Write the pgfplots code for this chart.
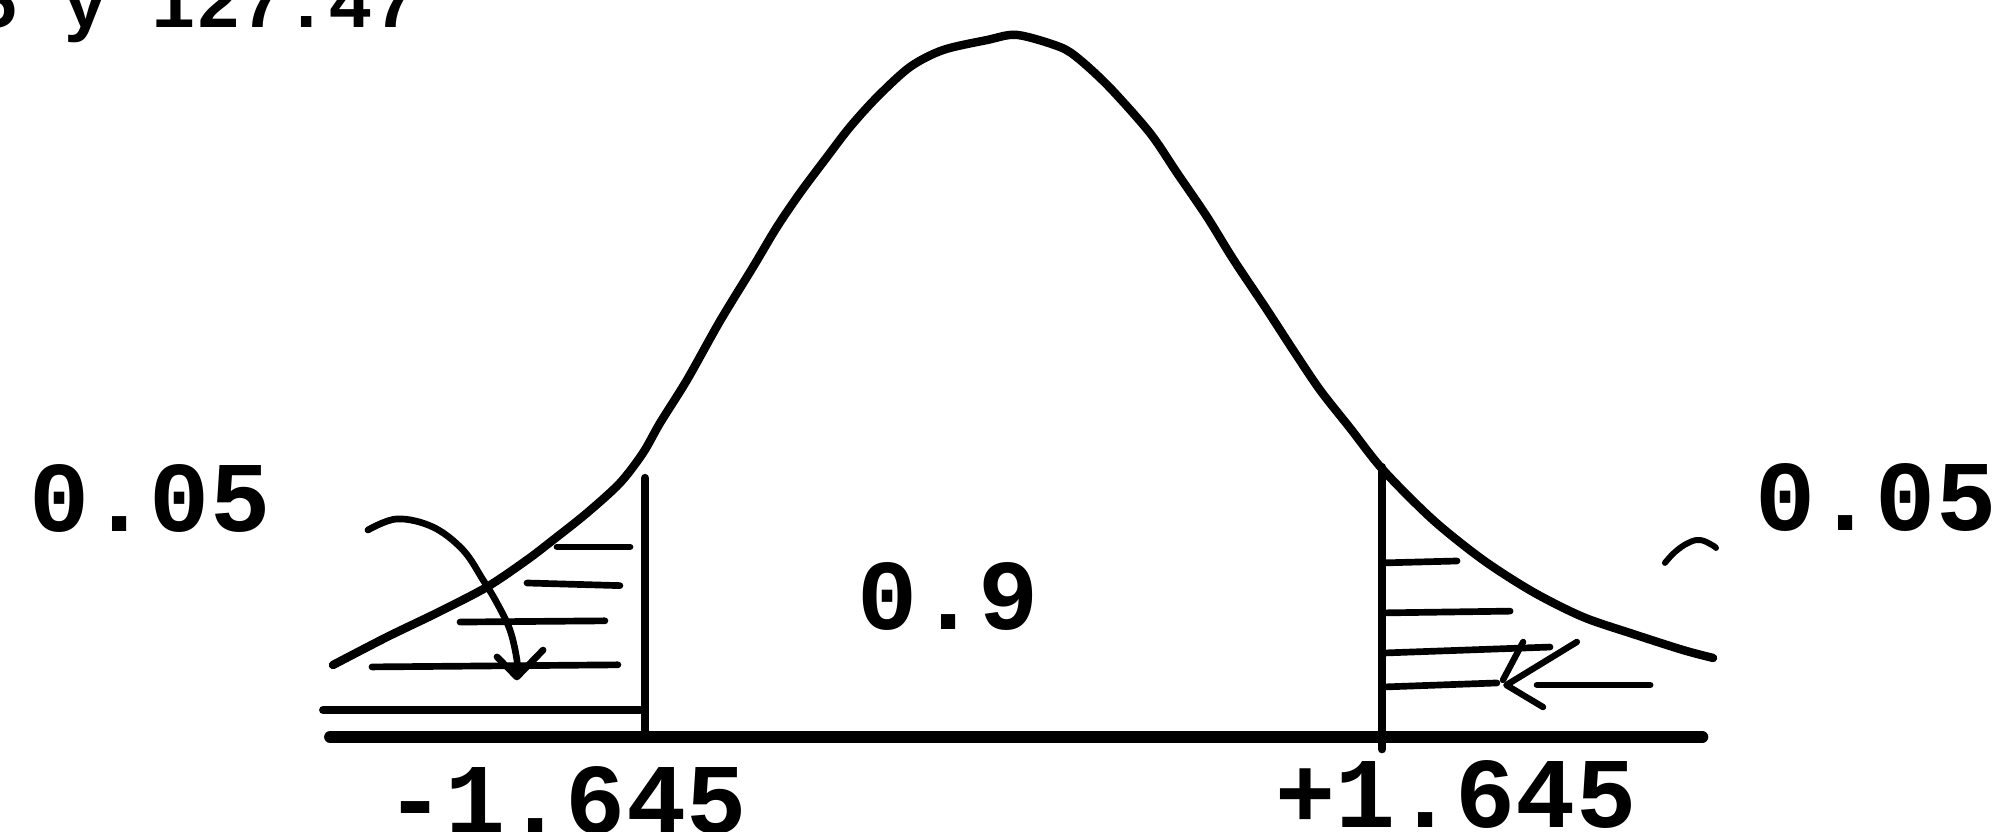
\documentclass[border=0pt]{standalone}
\usepackage{fontspec}
\usepackage{pgfplots}
\pgfplotsset{compat=1.18}
\newfontfamily\tw{Liberation Mono}
\newcommand\lbl{\fontsize{28.5}{32}\selectfont\tw\bfseries}
\newcommand\hdr{\fontsize{21}{25}\selectfont\tw\bfseries}

\begin{document}
\begin{tikzpicture}
\begin{axis}[
  scale only axis, width=199.4mm, height=83.2mm,
  at={(0,0)}, anchor=south west,
  xmin=-4.5246, xmax=4.3772, ymin=-0.05398, ymax=0.41875,
  hide axis, clip=false,
  every axis plot/.append style={black, line cap=round, line join=round},
]
\coordinate (ll) at (rel axis cs:0,0);
\coordinate (ur) at (rel axis cs:1,1);

% bell curve
\addplot[line width=2.4pt, smooth, tension=0.5] coordinates {
 (-3.038,0.0409) (-2.797,0.0568) (-2.574,0.0705) (-2.351,0.0852)
 (-2.172,0.1006) (-2.056,0.1119) (-1.904,0.1273) (-1.757,0.1443)
 (-1.654,0.1614) (-1.578,0.1784) (-1.458,0.2028) (-1.310,0.2364)
 (-1.163,0.2670) (-1.056,0.2898) (-0.953,0.3091) (-0.833,0.3295)
 (-0.730,0.3466) (-0.609,0.3636) (-0.462,0.3807) (-0.315,0.3903)
 (-0.118,0.3960) (0.016,0.3989) (0.208,0.3920) (0.297,0.3847)
 (0.431,0.3688) (0.609,0.3432) (0.730,0.3205) (0.864,0.2955)
 (0.980,0.2716) (1.132,0.2426) (1.248,0.2199) (1.368,0.1972)
 (1.502,0.1756) (1.650,0.1517) (1.873,0.1233) (2.096,0.1006)
 (2.319,0.0824) (2.542,0.0682) (2.766,0.0585) (2.989,0.0494)
 (3.123,0.0449)};

% base line
\addplot[line width=3.4pt] coordinates {(-3.051,0) (3.075,0)};

% cut-off lines at -1.645 and +1.645
\addplot[line width=2.3pt] coordinates {(-1.645,0) (-1.645,0.1472)};
\addplot[line width=2.3pt] coordinates {(1.645,-0.007) (1.645,0.1534)};

% hatching, left tail
\addplot[line width=1.9pt] coordinates {(-2.038,0.108) (-1.712,0.108)};
\addplot[line width=1.9pt] coordinates {(-2.172,0.0875) (-1.757,0.0860)};
\addplot[line width=1.9pt] coordinates {(-2.471,0.0653) (-1.824,0.0660)};
\addplot[line width=1.9pt] coordinates {(-2.864,0.0398) (-1.766,0.0410)};
\addplot[line width=2.2pt] coordinates {(-3.083,0.0153) (-1.667,0.0153)};

% hatching, right tail
\addplot[line width=1.9pt] coordinates {(1.650,0.0989) (1.980,0.1000)};
\addplot[line width=1.9pt] coordinates {(1.650,0.0705) (2.217,0.0715)};
\addplot[line width=1.9pt] coordinates {(1.650,0.0477) (2.395,0.0511)};
\addplot[line width=1.9pt] coordinates {(1.650,0.0284) (2.158,0.0307)};
\addplot[line width=1.9pt] coordinates {(2.337,0.0295) (2.842,0.0295)};

% arrow into the left tail
\addplot[line width=1.9pt, smooth, tension=0.6] coordinates {
 (-2.882,0.1176) (-2.752,0.1239) (-2.592,0.1193) (-2.458,0.1063)
 (-2.368,0.0892) (-2.306,0.0761) (-2.248,0.0608) (-2.217,0.0438)
 (-2.217,0.0352)};
\addplot[line width=1.9pt] coordinates {(-2.306,0.0455) (-2.217,0.0341) (-2.100,0.0494)};

% arrow head in the right tail
\addplot[line width=1.8pt] coordinates {(2.275,0.054) (2.185,0.0324)};
\addplot[line width=1.8pt] coordinates {(2.515,0.054) (2.200,0.0295) (2.364,0.017)};

% small stroke beside the right label
\addplot[line width=1.7pt, smooth, tension=0.7] coordinates {
 (2.908,0.0989) (2.953,0.1051) (3.011,0.1102) (3.065,0.1119)
 (3.118,0.1091) (3.136,0.1074)};

% labels
\node[font=\lbl, anchor=base, inner sep=0] at (axis cs:-3.855,0.1165) {0.05};
\node[font=\lbl, anchor=base, inner sep=0] at (axis cs:3.850,0.1176) {0.05};
\node[font=\lbl, anchor=base, inner sep=0] at (axis cs:-0.292,0.0608) {0.9};
\node[font=\lbl, anchor=base, inner sep=0] at (axis cs:-1.998,-0.0551) {-1.645};
\node[font=\lbl, anchor=base, inner sep=0] at (axis cs:1.975,-0.0517) {+1.645};
\node[font=\hdr, anchor=base west, inner sep=0] at (axis cs:-4.641,0.4034) {5 y 127.47};
\end{axis}
\pgfresetboundingbox
\useasboundingbox (ll) rectangle (ur);
\end{tikzpicture}
\end{document}
